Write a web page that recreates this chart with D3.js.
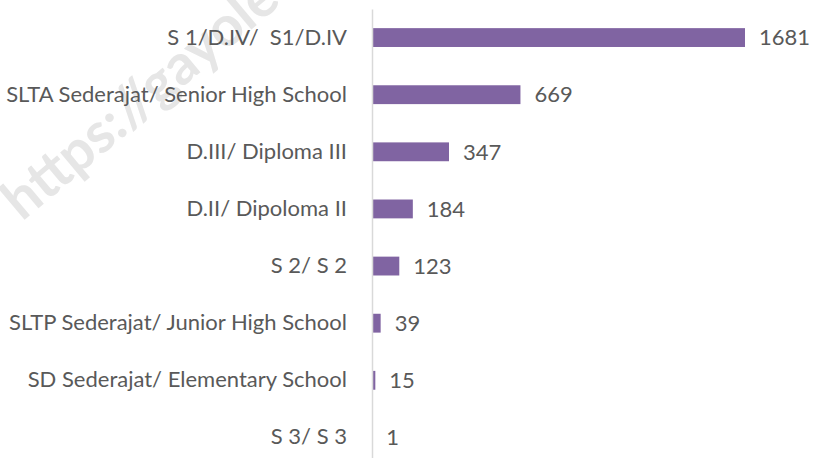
<!DOCTYPE html>
<html>
<head>
<meta charset="utf-8">
<script src="https://cdn.jsdelivr.net/npm/d3@7"></script>
<style>
  body { margin: 0; background: #fff; }
  svg { display: block; }
  .tick text, .val { font-family: Lato, "Open Sans", sans-serif; font-size: 22px; fill: #595959; white-space: pre; }
</style>
</head>
<body>
<div id="chart"></div>
<script>
// education level counts
let categories = ["S 1/D.IV/  S1/D.IV", "SLTA Sederajat/ Senior High School", "D.III/ Diploma III",
    "D.II/ Dipoloma II", "S 2/ S 2", "SLTP Sederajat/ Junior High School",
    "SD Sederajat/ Elementary School", "S 3/ S 3"];
let values = [1681, 669, 347, 184, 123, 39, 15, 1];

let width = 813, height = 458;

let svg = d3.select("#chart").append("svg")
    .attr("width", width)
    .attr("height", height);

// faint watermark behind everything
svg.append("text")
    .attr("transform", "translate(22,222) rotate(-40)")
    .style("font-family", "Lato, sans-serif")
    .style("font-weight", "bold")
    .style("font-size", "56px")
    .style("fill", "#e6e6e6")
    .text("https://gayole");

let x = d3.scaleLinear()
    .domain([0, 1681])
    .range([372, 745]);

let y = d3.scaleBand()
    .domain(categories)
    .range([9, 466])
    .paddingInner(0.67)
    .paddingOuter(0.335);

//bars
svg.selectAll(".bar")
    .data(values)
    .join("rect")
    .attr("class", "bar")
    .attr("x", x(0))
    .attr("y", (d, i) => y(categories[i]))
    .attr("width", d => x(d) - x(0))
    .attr("height", y.bandwidth())
    .attr("fill", "#8064a2");

//value labels
svg.selectAll(".val")
    .data(values)
    .join("text")
    .attr("class", "val")
    .attr("x", d => x(d) + 14)
    .attr("y", (d, i) => y(categories[i]) + y.bandwidth() / 2)
    .attr("dy", "0.35em")
    .text(d => d);

//axis
let axis = svg.append("g")
    .attr("transform", "translate(" + x(0) + ",0)")
    .call(d3.axisLeft(y).tickSize(0).tickSizeOuter(0).tickPadding(25));

axis.select(".domain")
    .attr("stroke", "#d9d9d9")
    .attr("stroke-width", 1.5);
</script>
</body>
</html>
